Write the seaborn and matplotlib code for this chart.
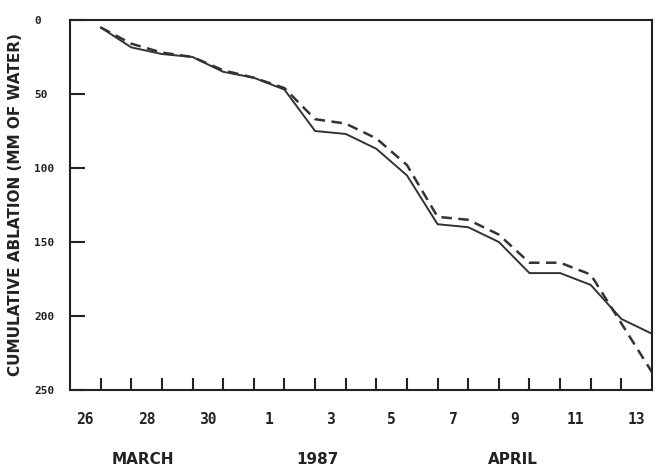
import matplotlib
matplotlib.use("Agg")
import matplotlib.pyplot as plt
import seaborn as sns
import pandas as pd

# Day index: 0 = start of 26 March 1987, 19 = end of 13 April 1987
days = list(range(1, 20))
solid_ablation = [5, 18.5, 23, 25, 35, 39, 47, 75, 77, 87, 105, 138, 140, 150, 171, 171, 179, 202, 212]
dashed_ablation = [5, 16, 22, 25, 34, 39, 46, 67, 70, 80, 98, 133, 135, 145, 164, 164, 172, 205, 238]

tick_labels = ["26", "28", "30", "1", "3", "5", "7", "9", "11", "13"]
tick_label_pos = [0.5, 2.5, 4.5, 6.5, 8.5, 10.5, 12.5, 14.5, 16.5, 18.5]
y_ticks = [0, 50, 100, 150, 200, 250]

sns.set_theme(style="white")
plt.rcParams["font.family"] = ["DejaVu Sans Mono", "DejaVu Sans"]

line_color = "#333333"
text_color = "#222222"
W, H = 658, 472
fig = plt.figure(figsize=(W / 100, H / 100), dpi=100)
ax = fig.add_axes([70 / W, 1 - 390 / H, 582 / W, 370 / H])

df_solid = pd.DataFrame({"day": days, "ablation": solid_ablation})
df_dashed = pd.DataFrame({"day": days, "ablation": dashed_ablation})
sns.lineplot(data=df_solid, x="day", y="ablation", ax=ax, color=line_color, lw=1.4)
sns.lineplot(data=df_dashed, x="day", y="ablation", ax=ax, color=line_color, lw=1.8)
ax.lines[-1].set_dashes((4.2, 2.6))

ax.set_xlim(0, 19)
ax.set_ylim(250, 0)
ax.set_xlabel("")
ax.set_ylabel("")

for s in ax.spines.values():
    s.set_color(text_color)
    s.set_linewidth(1.5)

# x: daily ticks (inward), labels centred on every other day
ax.set_xticks(list(range(1, 19)))
ax.set_xticklabels([])
ax.set_xticks(tick_label_pos, minor=True)
ax.set_xticklabels(tick_labels, minor=True, fontsize=10.5, fontweight="bold", color=text_color)
ax.tick_params(axis="x", which="major", direction="in", length=9, width=1.5, color=text_color, bottom=True)
ax.tick_params(axis="x", which="minor", length=0, pad=16, bottom=True)

ax.set_yticks(y_ticks)
ax.set_yticklabels([str(v) for v in y_ticks], fontsize=8, fontweight="bold", color=text_color)
ax.tick_params(axis="y", which="major", direction="in", length=11, width=1.5, color=text_color, pad=26, left=True)
for t in ax.get_yticklabels():
    t.set_horizontalalignment("left")

word_font = dict(family="DejaVu Sans", fontsize=11, fontweight="bold", color=text_color)
fig.text(16 / W, 1 - 205 / H, "CUMULATIVE ABLATION (MM OF WATER)", rotation=90,
         ha="center", va="center", **word_font)
fig.text(143 / W, 1 - 460 / H, "MARCH", ha="center", va="center", **word_font)
fig.text(317 / W, 1 - 460 / H, "1987", ha="center", va="center", **word_font)
fig.text(513 / W, 1 - 460 / H, "APRIL", ha="center", va="center", **word_font)

fig.savefig("out.png", dpi=100)
